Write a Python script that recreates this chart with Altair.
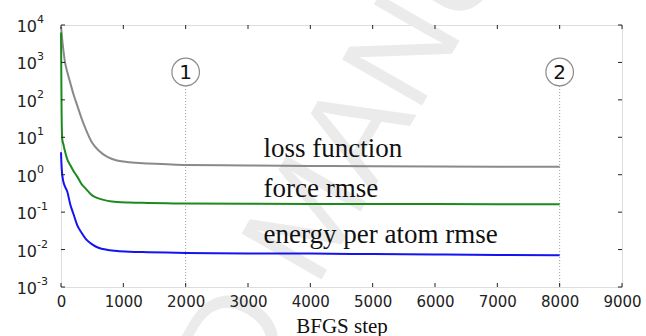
import altair as alt
import pandas as pd

# BFGS optimisation history of the training errors
steps = [0, 10, 20, 40, 60, 100, 150, 200, 260, 330, 400, 500, 600, 750, 900,
         1100, 1400, 1700, 2000, 3000, 4000, 5000, 6000, 7000, 8000]
loss_function = [8900, 6300, 4000, 2000, 1120, 560, 280, 141, 71, 32, 16, 7.1, 4.5, 2.95,
                 2.4, 2.14, 2.0, 1.9, 1.82, 1.76, 1.72, 1.68, 1.66, 1.64, 1.62]
force_rmse = [6300, 40, 8.9, 6.3, 4.5, 2.6, 1.78, 1.26, 0.89, 0.56, 0.42, 0.28, 0.234, 0.2,
              0.186, 0.18, 0.176, 0.172, 0.17, 0.168, 0.166, 0.165, 0.164, 0.163, 0.162]
energy_rmse = [4.0, 1.6, 1.0, 0.63, 0.5, 0.355, 0.158, 0.089, 0.045, 0.028, 0.019, 0.0138,
               0.0112, 0.0098, 0.0091, 0.0087, 0.0085, 0.0083, 0.0081, 0.0079, 0.0078,
               0.0076, 0.0074, 0.0072, 0.0071]

series_names = ["loss function", "force rmse", "energy per atom rmse"]
series_colors = ["#8a8a8a", "#1d8a1d", "#1414f0"]

# in-plot labels (step, value at text baseline)
label_x = [3250, 3250, 3250]
label_y = [2.97, 0.259, 0.0147]

# numbered checkpoints
marker_steps = [2000, 8000]
marker_text = ["1", "2"]
marker_y = 555
marker_line_top = 234

x_ticks = [0, 1000, 2000, 3000, 4000, 5000, 6000, 7000, 8000, 9000]
y_ticks = [1e-3, 1e-2, 1e-1, 1e0, 1e1, 1e2, 1e3, 1e4]
y_exponents = ["-3", "-2", "-1", "0", "1", "2", "3", "4"]

W, H = 561, 262

rows = []
for name, vals in zip(series_names, [loss_function, force_rmse, energy_rmse]):
    for s, v in zip(steps, vals):
        rows.append({"step": s, "value": v, "series": name})
df = pd.DataFrame(rows)

x_scale = alt.Scale(domain=[0, 9000], nice=False, zero=False)
y_scale = alt.Scale(type="log", domain=[1e-3, 1e4], nice=False)

x_axis = alt.Axis(values=x_ticks, format="d", ticks=False, domain=False, grid=False,
                  zindex=1,
                  labelFont="DejaVu Sans", labelFontSize=15, labelColor="#222",
                  labelPadding=7, labelFlush=False,
                  title="BFGS step", titleFont="Liberation Serif", titleFontSize=21,
                  titleFontWeight="normal", titleColor="#111",
                  titleBaseline="alphabetic", titleY=45)
# y tick labels are drawn as power-of-ten text layers below
y_axis = alt.Axis(values=y_ticks, ticks=False, domain=False, grid=False, title=None,
                  labels=False)


def X(field="step"):
    return alt.X(f"{field}:Q", scale=x_scale, axis=x_axis)


def Y(field="value"):
    return alt.Y(f"{field}:Q", scale=y_scale, axis=y_axis)


# faint diagonal watermark
wm = pd.DataFrame({"t": ["MANUSCRIPT"]})
wm2 = pd.DataFrame({"t": ["ACCEPTED"]})
watermark = alt.Chart(wm).mark_text(
    font="Liberation Sans", fontSize=134, angle=300, align="left",
    baseline="alphabetic", color="#ebebeb"
).encode(x=alt.value(255), y=alt.value(264), text="t:N")
watermark2 = alt.Chart(wm2).mark_text(
    font="Liberation Sans", fontSize=134, angle=300, align="right",
    baseline="alphabetic", color="#ebebeb"
).encode(x=alt.value(236), y=alt.value(296), text="t:N")

lines = alt.Chart(df).mark_line(strokeWidth=2, interpolate="monotone").encode(
    x=X(), y=Y(),
    color=alt.Color("series:N", scale=alt.Scale(domain=series_names, range=series_colors),
                    legend=None),
)

mk = pd.DataFrame({"step": marker_steps, "value": [marker_y] * 2,
                   "top": [marker_line_top] * 2, "bottom": [1e-3] * 2, "t": marker_text})
dotted = alt.Chart(mk).mark_rule(color="#9a9a9a", strokeWidth=1, strokeDash=[1, 2]).encode(
    x=X(), y=Y("top"), y2="bottom:Q")
circles = alt.Chart(mk).mark_circle(size=760, fill="white", stroke="#8c8c8c",
                                    strokeWidth=1.2, opacity=1).encode(x=X(), y=Y())
digits = alt.Chart(mk).mark_text(font="DejaVu Sans", fontSize=20, color="#111",
                                 align="center", baseline="middle", dy=1).encode(
    x=X(), y=Y(), text="t:N")

lab = pd.DataFrame({"step": label_x, "value": label_y, "t": series_names})
labels = alt.Chart(lab).mark_text(font="Liberation Serif", fontSize=27, color="#111",
                                  align="left", baseline="alphabetic").encode(
    x=X(), y=Y(), text="t:N")

# power-of-ten tick labels: base and raised exponent
yl = pd.DataFrame({"value": y_ticks, "base": ["10"] * len(y_ticks), "exp": y_exponents})
y_base = alt.Chart(yl).mark_text(font="DejaVu Sans", fontSize=16, color="#222",
                                 align="right", baseline="middle", dy=2).encode(
    y=Y(), x=alt.value(-24), text="base:N")
y_exp = alt.Chart(yl).mark_text(font="DejaVu Sans", fontSize=11, color="#222",
                                align="left", baseline="middle", dy=-5).encode(
    y=Y(), x=alt.value(-24), text="exp:N")

# inward ticks on all four sides
xt = pd.DataFrame({"step": x_ticks})
yt = pd.DataFrame({"value": y_ticks})
tick_style = dict(color="#222", strokeWidth=1)
bottom_ticks = alt.Chart(xt).mark_rule(**tick_style).encode(
    x=X(), y=alt.value(H), y2=alt.value(H - 4))
top_ticks = alt.Chart(xt).mark_rule(**tick_style).encode(
    x=X(), y=alt.value(0), y2=alt.value(4))
left_ticks = alt.Chart(yt).mark_rule(**tick_style).encode(
    y=Y(), x=alt.value(0), x2=alt.value(4))
right_ticks = alt.Chart(yt).mark_rule(**tick_style).encode(
    y=Y(), x=alt.value(W), x2=alt.value(W - 4))

chart = alt.layer(
    watermark, watermark2, dotted, lines, circles, digits, labels, y_base, y_exp,
    bottom_ticks, top_ticks, left_ticks, right_ticks
).properties(
    width=W, height=H,
    autosize=alt.AutoSizeParams(type="none"),
    padding={"left": 61, "top": 25, "right": 24, "bottom": 49},
).configure_view(stroke="#222", strokeWidth=1.2).configure(background="white")

chart.save("out.html", embed_options={"renderer": "svg", "actions": False})
